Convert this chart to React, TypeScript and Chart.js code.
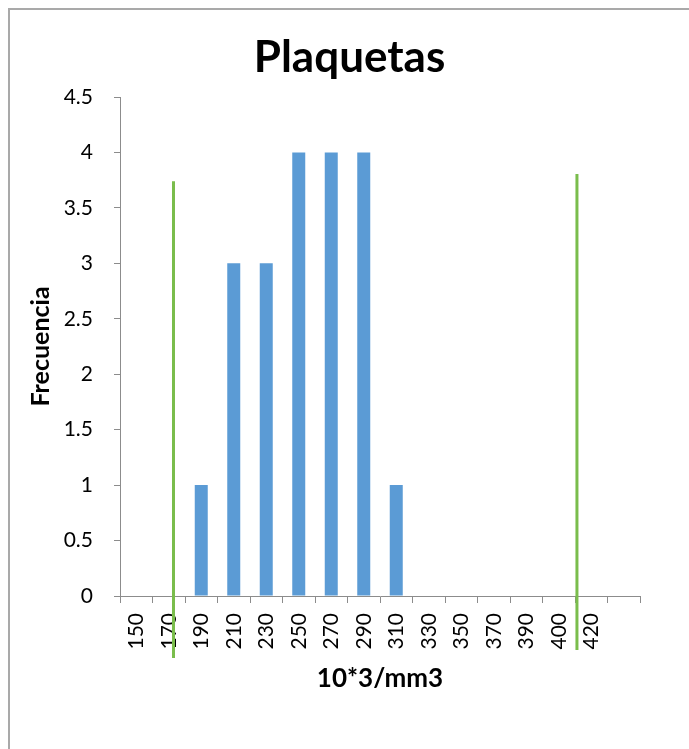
import React, { useEffect, useRef } from 'react';
import { Chart, registerables } from 'chart.js';

Chart.register(...registerables);

// Platelet count bins (10^3/mm3) and how many samples fall in each
const binLabels = ['150', '170', '190', '210', '230', '250', '270', '290', '310', '330', '350', '370', '390', '400', '420', ''];
const frequencies = [0, 0, 1, 3, 3, 4, 4, 4, 1, 0, 0, 0, 0, 0, 0, 0];

// Reference-range markers, placed on the bin index scale
const markerPositions = [1.146, 13.56];
const markerTops = [3.74, 3.805];
const markerBottoms = [-0.56, -0.487];

const yMax = 4.5;
const yStep = 0.5;

const chartTitle = 'Plaquetas';
const xTitle = '10*3/mm3';
const yTitle = 'Frecuencia';

const BAR_COLOR = '#5B9BD5';
const MARKER_COLOR = '#7ABD4C';
const AXIS_COLOR = '#8C8C8C';
const FONT = 'Lato, "Open Sans", sans-serif';

// Chart title centred on the canvas, axis titles centred on the plot area
const titlePlugin = {
  id: 'sheetTitles',
  afterDraw(chart: any) {
    const { ctx, chartArea } = chart;
    ctx.save();
    ctx.fillStyle = '#000';
    ctx.textAlign = 'center';
    ctx.textBaseline = 'alphabetic';

    ctx.font = `bold 44px ${FONT}`;
    ctx.fillText(chartTitle, chart.width / 2, chartArea.top - 25);

    ctx.font = `bold 26px ${FONT}`;
    ctx.fillText(xTitle, (chartArea.left + chartArea.right) / 2, chartArea.bottom + 91);

    ctx.font = `bold 25px ${FONT}`;
    ctx.translate(chartArea.left - 71, (chartArea.top + chartArea.bottom) / 2);
    ctx.rotate(-Math.PI / 2);
    ctx.fillText(yTitle, 0, 0);
    ctx.restore();
  },
};

export default function App() {
  const canvasRef = useRef<HTMLCanvasElement | null>(null);

  useEffect(() => {
    const canvas = canvasRef.current;
    if (!canvas) return;

    const markerSets = markerPositions.map((pos, i) => ({
      type: 'line' as const,
      label: 'marker' + i,
      data: [
        { x: pos, y: markerTops[i] },
        { x: pos, y: markerBottoms[i] },
      ],
      xAxisID: 'xMark',
      yAxisID: 'y',
      borderColor: MARKER_COLOR,
      borderWidth: 3,
      pointRadius: 0,
      clip: false as const,
      order: 0,
    }));

    const chart = new Chart(canvas, {
      type: 'bar',
      data: {
        labels: binLabels,
        datasets: [
          {
            type: 'bar',
            label: 'Frecuencia',
            data: frequencies,
            backgroundColor: BAR_COLOR,
            borderWidth: 0,
            grouped: false,
            barPercentage: 0.4,
            categoryPercentage: 1,
            xAxisID: 'x',
            yAxisID: 'y',
            order: 1,
          },
          ...markerSets,
        ] as any,
      },
      options: {
        responsive: false,
        animation: false,
        layout: { padding: { left: 0, right: 49, top: 87, bottom: 0 } },
        plugins: {
          legend: { display: false },
          tooltip: { enabled: false },
          title: { display: false },
        },
        scales: {
          x: {
            type: 'category',
            offset: true,
            afterFit: (scale: any) => {
              scale.height = 153;
            },
            grid: {
              offset: true,
              drawOnChartArea: false,
              drawTicks: true,
              tickLength: 7,
              color: AXIS_COLOR,
            },
            border: { display: true, color: AXIS_COLOR, width: 1 },
            ticks: {
              autoSkip: false,
              minRotation: 90,
              maxRotation: 90,
              padding: 10,
              color: '#000',
              font: { family: FONT, size: 21 },
            },
          },
          xMark: {
            type: 'linear',
            display: false,
            offset: false,
            min: -0.5,
            max: binLabels.length - 0.5,
          },
          y: {
            type: 'linear',
            min: 0,
            max: yMax,
            afterFit: (scale: any) => {
              scale.width = 110;
            },
            grid: {
              drawOnChartArea: false,
              drawTicks: true,
              tickLength: 6,
              color: AXIS_COLOR,
            },
            border: { display: true, color: AXIS_COLOR, width: 1 },
            ticks: {
              stepSize: yStep,
              padding: 21,
              color: '#000',
              font: { family: FONT, size: 21 },
              callback: (v: any) => String(v),
            },
          },
        },
      },
      plugins: [titlePlugin],
    });

    return () => {
      chart.destroy();
    };
  }, []);

  return (
    <div
      style={{
        position: 'absolute',
        borderTop: '2px solid #a9a9a9',
        borderLeft: '2px solid #a9a9a9',
        width: 679,
        height: 739,
        background: '#fff',
      }}
    >
      <canvas ref={canvasRef} width={679} height={739} style={{ display: 'block' }} />
    </div>
  );
}
